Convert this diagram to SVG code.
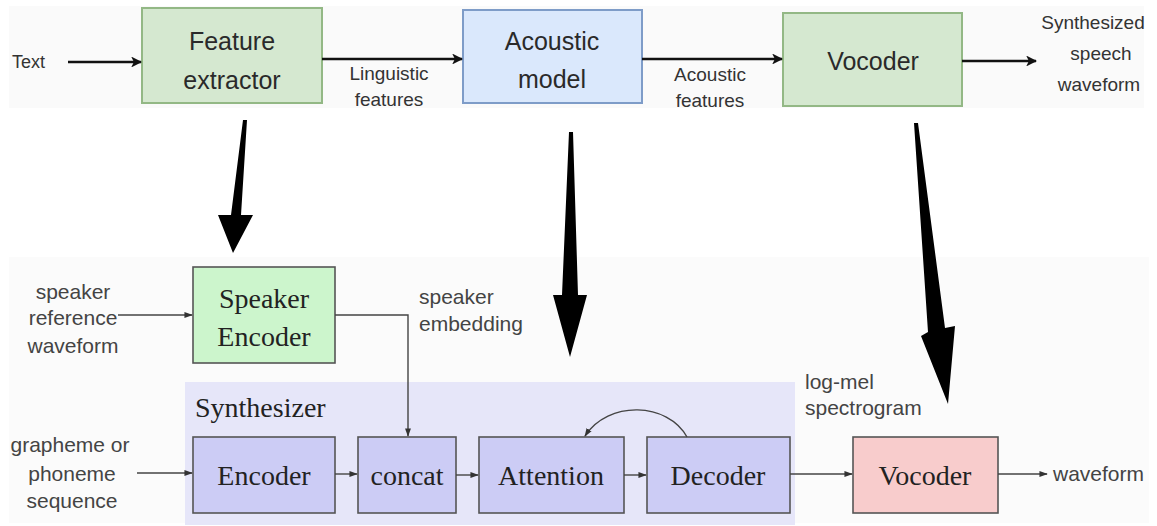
<svg xmlns="http://www.w3.org/2000/svg" width="1157" height="526" viewBox="0 0 1157 526">
  <defs>
    <marker id="headBig" viewBox="0 0 10 10" refX="9" refY="5" markerWidth="4.2" markerHeight="4.2" orient="auto" markerUnits="strokeWidth">
      <path d="M0,0 L10,5 L0,10 L2.5,5 Z" fill="#111"/>
    </marker>
    <marker id="headSmall" viewBox="0 0 10 10" refX="9" refY="5" markerWidth="6" markerHeight="6" orient="auto" markerUnits="strokeWidth">
      <path d="M0,1.5 L10,5 L0,8.5 Z" fill="#333"/>
    </marker>
    <style>
      .sans { font-family: "Liberation Sans", Arial, sans-serif; }
      .serif { font-family: "Liberation Serif", "Times New Roman", serif; }
      .top-box-text { font-size: 25px; fill: #2a2a2a; text-anchor: middle; }
      .top-label { font-size: 19px; fill: #333; text-anchor: middle; }
      .bot-label { font-size: 21px; fill: #444; }
      .box-text { font-size: 28px; fill: #222; text-anchor: middle; }
      .green { fill: #d5e8d0; stroke: #93b885; stroke-width: 2; }
      .blue { fill: #dae8fc; stroke: #7e9cc8; stroke-width: 2; }
      .dark-box { stroke: #555; stroke-width: 1.6; }
      .flow { stroke: #111; stroke-width: 2.6; fill: none; marker-end: url(#headBig); }
      .thin { stroke: #444; stroke-width: 1.4; fill: none; marker-end: url(#headSmall); }
      .thin-plain { stroke: #444; stroke-width: 1.4; fill: none; }
      .big-arrow { fill: #000; }
    </style>
  </defs>

  <rect x="0" y="0" width="1157" height="526" fill="#ffffff"/>
  <!-- faint backing panels for the two pipelines -->
  <rect x="9" y="6" width="1135" height="102" fill="#fafafa"/>
  <rect x="9" y="257" width="1140" height="266" fill="#fbfbfb"/>

  <!-- Synthesizer container -->
  <g id="synthesizer">
    <rect x="185" y="382" width="610" height="143" fill="#e6e6f9"/>
    <text class="serif" x="195" y="417" font-size="28" fill="#222">Synthesizer</text>
  </g>

  <!-- top pipeline -->
  <g id="text-input">
    <text class="sans" x="12" y="68" font-size="18" fill="#333">Text</text>
  </g>
  <g id="feature-extractor">
    <rect class="green" x="142" y="8" width="180" height="95"/>
    <text class="sans top-box-text" x="232" y="50">Feature</text>
    <text class="sans top-box-text" x="232" y="89">extractor</text>
  </g>
  <g id="acoustic-model">
    <rect class="blue" x="463" y="10" width="179" height="93"/>
    <text class="sans top-box-text" x="552" y="50">Acoustic</text>
    <text class="sans top-box-text" x="552" y="88">model</text>
  </g>
  <g id="vocoder-top">
    <rect class="green" x="783" y="13" width="179" height="93"/>
    <text class="sans top-box-text" x="873" y="70">Vocoder</text>
  </g>
  <g id="top-labels">
    <text class="sans top-label" x="389" y="80">Linguistic</text>
    <text class="sans top-label" x="389" y="106">features</text>
    <text class="sans top-label" x="710" y="81">Acoustic</text>
    <text class="sans top-label" x="710" y="107">features</text>
    <text class="sans top-label" x="1093" y="29">Synthesized</text>
    <text class="sans top-label" x="1101" y="60">speech</text>
    <text class="sans top-label" x="1099" y="91">waveform</text>
  </g>

  <!-- bottom pipeline -->
  <g id="speaker-input">
    <text class="sans bot-label" x="73" y="299" text-anchor="middle">speaker</text>
    <text class="sans bot-label" x="73" y="325" text-anchor="middle">reference</text>
    <text class="sans bot-label" x="73" y="353" text-anchor="middle">waveform</text>
  </g>
  <g id="speaker-encoder">
    <rect class="dark-box" x="193" y="267" width="142" height="96" fill="#ccf5cc"/>
    <text class="serif box-text" x="264" y="308" font-size="30">Speaker</text>
    <text class="serif box-text" x="264" y="346" font-size="30">Encoder</text>
  </g>
  <g id="embedding-label">
    <text class="sans bot-label" x="419" y="304">speaker</text>
    <text class="sans bot-label" x="419" y="331">embedding</text>
  </g>
  <g id="text-sequence">
    <text class="sans bot-label" x="70" y="452" text-anchor="middle">grapheme or</text>
    <text class="sans bot-label" x="72" y="481" text-anchor="middle">phoneme</text>
    <text class="sans bot-label" x="72" y="508" text-anchor="middle">sequence</text>
  </g>
  <g id="encoder">
    <rect class="dark-box" x="193" y="437" width="142" height="76" fill="#ccccf5"/>
    <text class="serif box-text" x="264" y="485">Encoder</text>
  </g>
  <g id="concat">
    <rect class="dark-box" x="358" y="437" width="98" height="76" fill="#ccccf5"/>
    <text class="serif box-text" x="407" y="485">concat</text>
  </g>
  <g id="attention">
    <rect class="dark-box" x="479" y="437" width="145" height="76" fill="#ccccf5"/>
    <text class="serif box-text" x="551" y="485">Attention</text>
  </g>
  <g id="decoder">
    <rect class="dark-box" x="647" y="437" width="143" height="76" fill="#ccccf5"/>
    <text class="serif box-text" x="718" y="485">Decoder</text>
  </g>
  <g id="spectrogram-label">
    <text class="sans bot-label" x="805" y="389">log-mel</text>
    <text class="sans bot-label" x="805" y="415">spectrogram</text>
  </g>
  <g id="vocoder-bottom">
    <rect class="dark-box" x="853" y="437" width="145" height="76" fill="#f8cccc"/>
    <text class="serif box-text" x="925" y="485">Vocoder</text>
  </g>
  <g id="waveform-output">
    <text class="sans bot-label" x="1053" y="481">waveform</text>
  </g>

  <!-- connectors -->
  <g id="connectors">
    <line class="flow" x1="68" y1="62" x2="141" y2="62"/>
    <line class="flow" x1="322" y1="59" x2="462" y2="59"/>
    <line class="flow" x1="642" y1="59" x2="782" y2="59"/>
    <line class="flow" x1="962" y1="61" x2="1036" y2="61"/>

    <line class="thin" x1="118" y1="315" x2="192" y2="315"/>
    <path class="thin" d="M335,315 H408 V436"/>
    <line class="thin" x1="137" y1="473" x2="192" y2="473"/>
    <line class="thin" x1="335" y1="474" x2="357" y2="474"/>
    <line class="thin" x1="456" y1="475" x2="478" y2="475"/>
    <line class="thin" x1="624" y1="475" x2="646" y2="475"/>
    <path class="thin" d="M687,437 C668,402 608,400 585,436"/>
    <line class="thin" x1="790" y1="474" x2="852" y2="474"/>
    <line class="thin" x1="998" y1="474" x2="1047" y2="474"/>

    <!-- heavy arrows relating the two pipelines -->
    <polygon class="big-arrow" points="243,120 247,120 241,215 253,215 233,253 218,215 231,215"/>
    <polygon class="big-arrow" points="569,132 573,132 578,295 587,295 570,357 553,295 562,295"/>
    <polygon class="big-arrow" points="914,123 918,123 945,328 955,326 948,404 921,336 928,332"/>
  </g>
</svg>
